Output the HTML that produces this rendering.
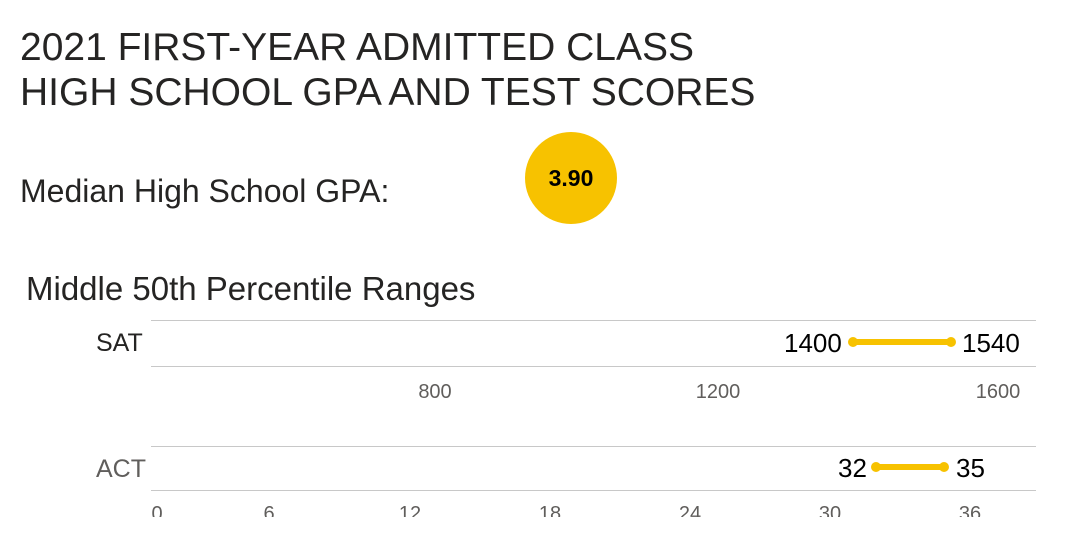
<!DOCTYPE html>
<html><head><meta charset="utf-8"><style>
body{margin:0;width:1080px;height:541px;background:#fff;font-family:"Liberation Sans","DejaVu Sans",sans-serif;position:relative;overflow:hidden}
.a{position:absolute;white-space:nowrap}
.t{left:20px;font-size:39px;color:#252423;line-height:1}
.ln{position:absolute;height:1px;background:#c8c8c8;left:151px;width:885px}
.tick{position:absolute;font-size:20px;color:#605e5c;transform:translateX(-50%)}
.lbl{font-size:26px;color:#000}
</style></head><body>
<div class="a t" style="top:28px">2021 FIRST-YEAR ADMITTED CLASS</div>
<div class="a t" style="top:73px">HIGH SCHOOL GPA AND TEST SCORES</div>
<div class="a" style="left:20px;top:173px;font-size:32px;color:#252423">Median High School GPA:</div>
<div class="a" style="left:525px;top:132px;width:92px;height:92px;border-radius:50%;background:#f7c200;text-align:center;line-height:92px;font-weight:bold;font-size:23px;color:#000">3.90</div>
<div class="a" style="left:26px;top:270px;font-size:33px;color:#252423">Middle 50th Percentile Ranges</div>
<div class="ln" style="top:320px"></div>
<div class="ln" style="top:366px"></div>
<div class="ln" style="top:446px"></div>
<div class="ln" style="top:490px"></div>
<div class="a" style="left:96px;top:329px;font-size:25px;color:#252423">SAT</div>
<div class="a" style="left:96px;top:455px;font-size:25px;color:#605e5c">ACT</div>
<div class="tick" style="left:435px;top:381px">800</div>
<div class="tick" style="left:718px;top:381px">1200</div>
<div class="tick" style="left:998px;top:381px">1600</div>
<div style="position:absolute;left:0;top:500px;width:1080px;height:17px;overflow:hidden">
<div class="tick" style="left:157px;top:3px">0</div>
<div class="tick" style="left:269px;top:3px">6</div>
<div class="tick" style="left:410px;top:3px">12</div>
<div class="tick" style="left:550px;top:3px">18</div>
<div class="tick" style="left:690px;top:3px">24</div>
<div class="tick" style="left:830px;top:3px">30</div>
<div class="tick" style="left:970px;top:3px">36</div>
</div>
<svg class="a" style="left:0;top:0" width="1080" height="541">
<line x1="853" y1="342" x2="951" y2="342" stroke="#f7c200" stroke-width="6"/>
<circle cx="853" cy="342" r="5" fill="#f7c200"/><circle cx="951" cy="342" r="5" fill="#f7c200"/>
<line x1="876" y1="467" x2="944" y2="467" stroke="#f7c200" stroke-width="6"/>
<circle cx="876" cy="467" r="5" fill="#f7c200"/><circle cx="944" cy="467" r="5" fill="#f7c200"/>
</svg>
<div class="a lbl" style="left:784px;top:328px">1400</div>
<div class="a lbl" style="left:962px;top:328px">1540</div>
<div class="a lbl" style="left:838px;top:453px">32</div>
<div class="a lbl" style="left:956px;top:453px">35</div>
</body></html>
